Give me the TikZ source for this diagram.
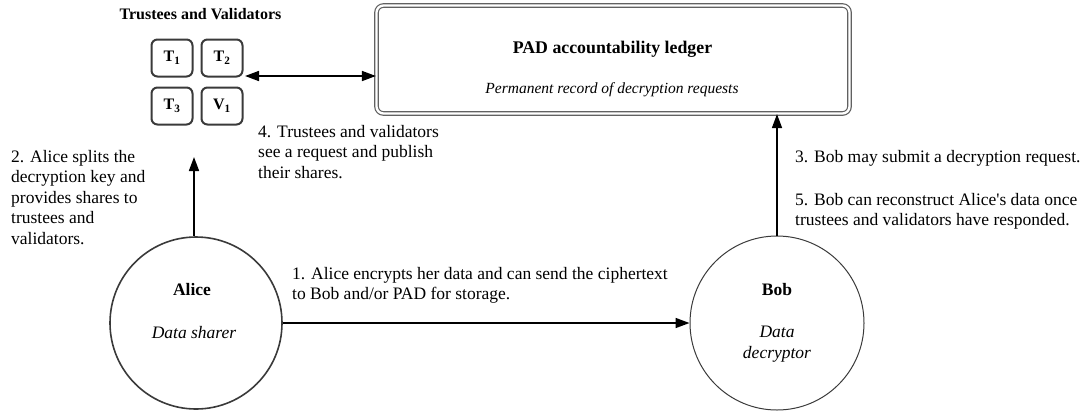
\documentclass[tikz,border=0pt]{standalone}
\usepackage{fontspec}
\setmainfont{Liberation Serif}
\usetikzlibrary{arrows.meta,calc}
\definecolor{edge}{HTML}{3A3A3A}
\begin{document}
\begin{tikzpicture}[x=1pt,y=-1pt,
  txt/.style={inner sep=0pt,anchor=base west,align=left,font=\fontsize{17.5}{20.6}\selectfont},
  tv/.style={draw=edge,line width=2pt,rounded corners=6pt,minimum width=41pt,minimum height=37pt,inner sep=0pt,font=\fontsize{16}{18}\selectfont\bfseries},
  actor/.style={circle,draw=edge,inner sep=0pt,align=center},
  arr/.style={line width=1.6pt,-{Triangle[length=14pt,width=10pt]}},
  darr/.style={line width=1.6pt,{Triangle[length=14pt,width=10pt]}-{Triangle[length=14pt,width=10pt]}}
]
\useasboundingbox (0,0) rectangle (1089,413);
% ledger
\node[draw=edge!80,double=white,double distance=2.3pt,line width=1.2pt,rounded corners=7pt,
      minimum width=473pt,minimum height=108pt,inner sep=0pt] (PAD) at (613,59.5) {};
\node[inner sep=0pt,anchor=base,font=\fontsize{17.8}{20}\selectfont\bfseries] (padt) at (612.5,53) {PAD accountability ledger};
\node[inner sep=0pt,anchor=base,font=\fontsize{15.5}{18}\selectfont\itshape] (pads) at (612,93) {Permanent record of decryption requests};
% trustees
\node[inner sep=0pt,anchor=base,font=\fontsize{16}{18}\selectfont\bfseries] (tvt) at (200.5,19) {Trustees and Validators};
\node[tv] (T1) at (172,58) {T\textsubscript{1}};
\node[tv] (T2) at (222,58) {T\textsubscript{2}};
\node[tv] (T3) at (172,106) {T\textsubscript{3}};
\node[tv] (V1) at (222,106) {V\textsubscript{1}};
\coordinate (tvR) at (245,76);
\draw[darr] (tvR) -- (PAD.west |- tvR);
% actors
\node[actor,line width=1.6pt,minimum size=172pt] (Alice) at (196,323) {};
\node[inner sep=0pt,anchor=base,font=\fontsize{17.5}{20}\selectfont\bfseries] (alicen) at (192,295) {Alice};
\node[inner sep=0pt,anchor=base,font=\fontsize{17.5}{20}\selectfont\itshape] (alicer) at (194,338) {Data sharer};
\node[actor,line width=1pt,minimum size=174pt] (Bob) at (777,323) {};
\node[inner sep=0pt,anchor=base,font=\fontsize{17.5}{20}\selectfont\bfseries] (bobn) at (777,295) {Bob};
\node[inner sep=0pt,anchor=base,align=center,font=\fontsize{17.5}{21.5}\selectfont\itshape] (bobr) at (777,358.5) {Data\\decryptor};
% connectors
\coordinate (atip) at (194,157);
\draw[arr] (Alice.north -| atip) -- (atip);
\draw[arr] (Alice.east) -- (Bob.west);
\draw[arr] (Bob.north) -- (Bob.north |- PAD.south);
% labels (base anchor = baseline of last line)
\node[txt] (l2) at (11,244.4) {2. Alice splits the\\decryption key and\\provides shares to\\trustees and\\validators.};
\node[txt] (l4) at (258,178.2) {4. Trustees and validators\\see a request and publish\\their shares.};
\node[txt] (l1) at (292,299.6) {1. Alice encrypts her data and can send the ciphertext\\to Bob and/or PAD for storage.};
\node[txt] (l3) at (795,162) {3. Bob may submit a decryption request.};
\node[txt] (l5) at (795,225.6) {5. Bob can reconstruct Alice\textquotesingle s data once\\trustees and validators have responded.};
\end{tikzpicture}
\end{document}
